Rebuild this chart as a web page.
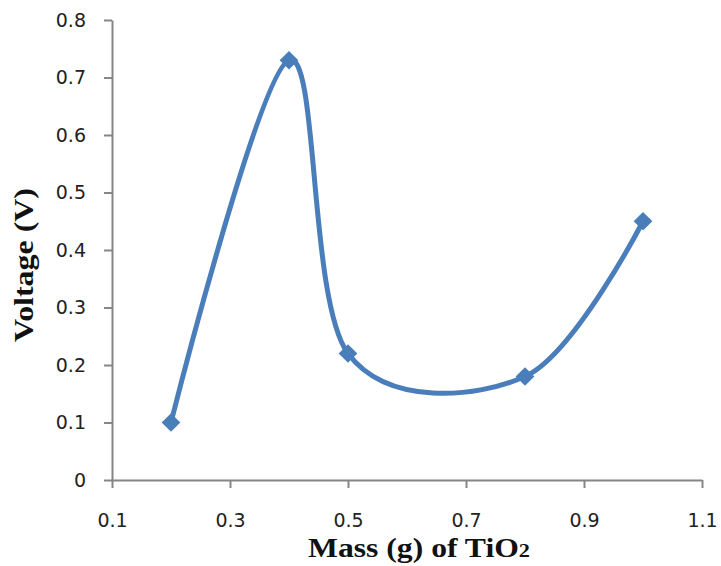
<!DOCTYPE html>
<html>
<head>
<meta charset="utf-8">
<script src="https://cdn.jsdelivr.net/npm/d3@7"></script>
<style>
  body { margin: 0; background: #fff; }
  .tick text { font-family: 'DejaVu Sans', Verdana, sans-serif; font-size: 19px; fill: #222; }
  .axis-title { font-family: 'Liberation Serif', 'Times New Roman', serif; font-weight: bold; font-size: 27px; fill: #111; }
</style>
</head>
<body>
<div id="chart"></div>
<script>
// Data
const massValues = [0.2, 0.4, 0.5, 0.8, 1.0];
const voltageValues = [0.1, 0.73, 0.22, 0.18, 0.45];
const xTicks = [0.1, 0.3, 0.5, 0.7, 0.9, 1.1];
const yTicks = [0, 0.1, 0.2, 0.3, 0.4, 0.5, 0.6, 0.7, 0.8];

const dataset = massValues.map((m, i) => ({ x: m, y: voltageValues[i] }));

// Dimensions
const dimensions = {
  width: 721,
  height: 566,
  left: 112,
  right: 702,
  top: 20,
  bottom: 480,
};

const svg = d3
  .select('#chart')
  .append('svg')
  .attr('width', dimensions.width)
  .attr('height', dimensions.height);

// Scales
const xScale = d3
  .scaleLinear()
  .domain([0.1, 1.1])
  .range([dimensions.left, dimensions.right]);

const yScale = d3
  .scaleLinear()
  .domain([0, 0.8])
  .range([dimensions.bottom, dimensions.top]);

// Axes
const axisColor = '#868686';

const xAxis = d3
  .axisBottom(xScale)
  .tickValues(xTicks)
  .tickFormat(d3.format('.1f'))
  .tickSizeInner(8)
  .tickSizeOuter(0)
  .tickPadding(26);

const xAxisGroup = svg
  .append('g')
  .attr('transform', `translate(0, ${dimensions.bottom})`)
  .call(xAxis);

const yAxis = d3
  .axisLeft(yScale)
  .tickValues(yTicks)
  .tickFormat((d) => (d === 0 ? '0' : d3.format('.1f')(d)))
  .tickSizeInner(8)
  .tickSizeOuter(0)
  .tickPadding(18);

const yAxisGroup = svg
  .append('g')
  .attr('transform', `translate(${dimensions.left}, 0)`)
  .call(yAxis);

[xAxisGroup, yAxisGroup].forEach((g) => {
  g.select('.domain').attr('stroke', axisColor).attr('stroke-width', 2);
  g.selectAll('.tick line').attr('stroke', axisColor).attr('stroke-width', 2);
  g.selectAll('.tick text').attr('fill', '#222');
});

// Line
const line = d3
  .line()
  .x((d) => xScale(d.x))
  .y((d) => yScale(d.y))
  .curve(d3.curveCardinal.tension(0));

svg
  .append('path')
  .datum(dataset)
  .attr('d', line)
  .attr('fill', 'none')
  .attr('stroke', '#4a7ebb')
  .attr('stroke-width', 5);

// Markers
svg
  .append('g')
  .selectAll('path')
  .data(dataset)
  .join('path')
  .attr('d', d3.symbol(d3.symbolSquare, 175))
  .attr('transform', (d) => `translate(${xScale(d.x)}, ${yScale(d.y)}) rotate(45)`)
  .attr('fill', '#4a7ebb');

// Axis titles
const xTitle = svg
  .append('text')
  .attr('class', 'axis-title')
  .attr('x', 308)
  .attr('y', 557)
  .attr('textLength', 222)
  .attr('lengthAdjust', 'spacingAndGlyphs');
xTitle.append('tspan').text('Mass (g) of TiO');
xTitle.append('tspan').attr('font-size', '19px').text('2');

svg
  .append('text')
  .attr('class', 'axis-title')
  .attr('transform', 'translate(33, 265) rotate(-90)')
  .attr('text-anchor', 'middle')
  .attr('textLength', 154)
  .attr('lengthAdjust', 'spacingAndGlyphs')
  .text('Voltage (V)');
</script>
</body>
</html>
